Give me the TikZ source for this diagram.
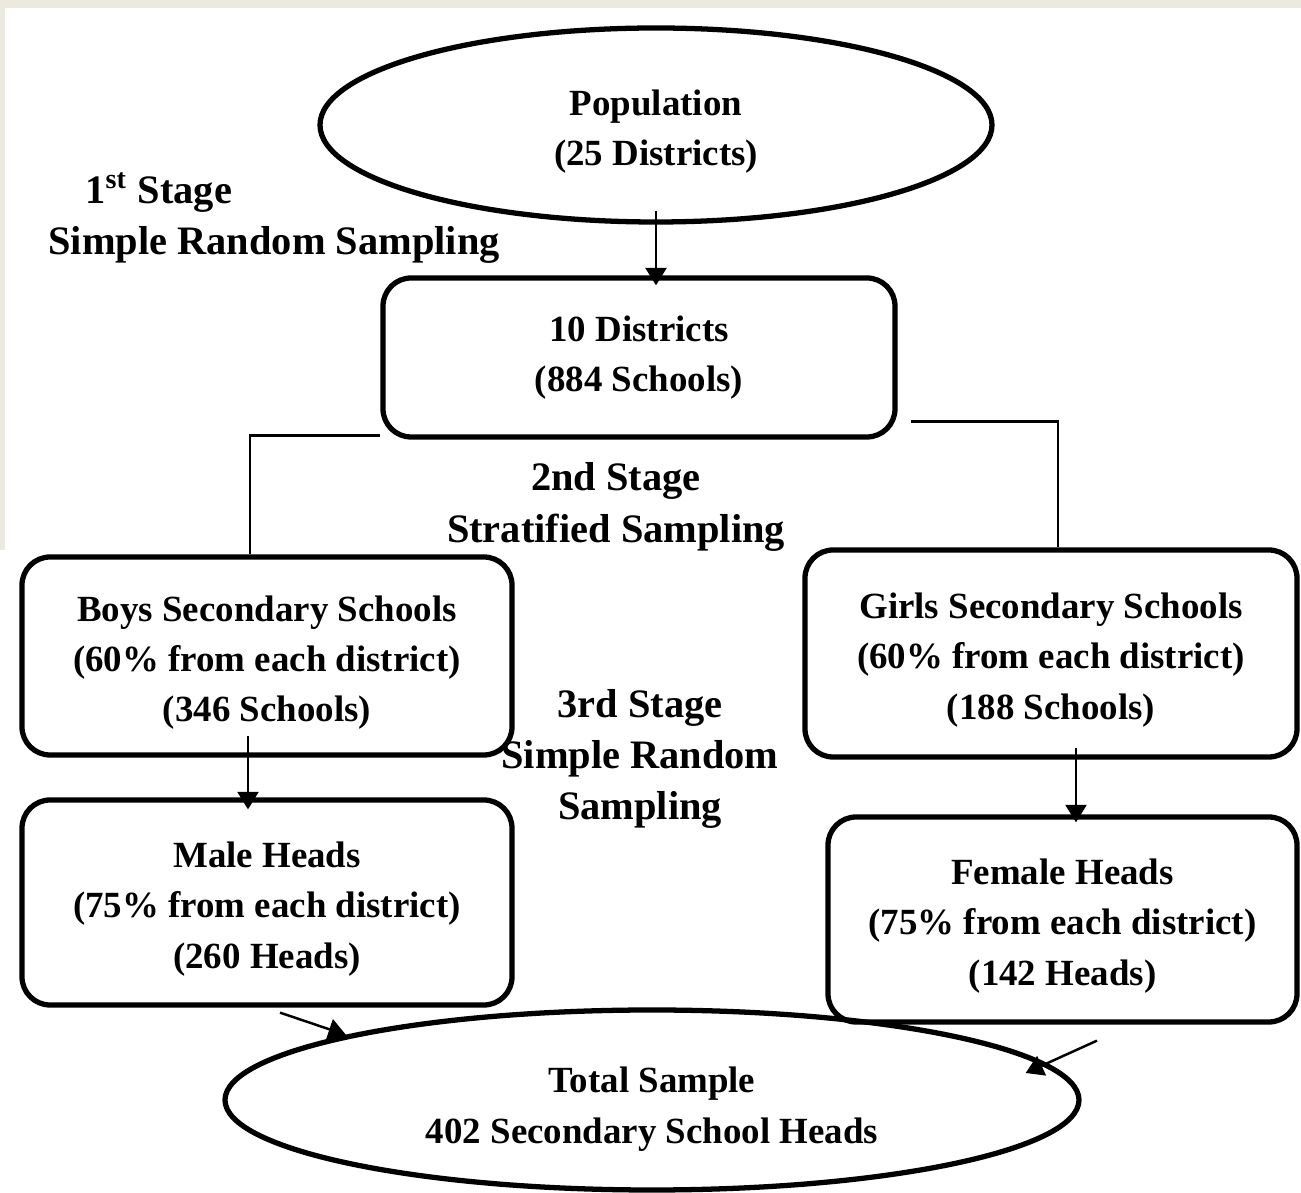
\documentclass[tikz,border=0pt]{standalone}
\usepackage{fontspec}
\setmainfont{Liberation Serif}
\usetikzlibrary{shapes.geometric,arrows.meta}
\definecolor{paper}{HTML}{ECEADF}
\newcommand{\hdrop}[1][11pt]{\rule{0pt}{#1}}

\begin{document}
\begin{tikzpicture}[
	every node/.style={font=\bfseries\fontsize{10.5}{14.3}\selectfont, align=center},
	blob/.style={ellipse, draw, line width=1.5pt, inner sep=0pt},
	box/.style={rectangle, rounded corners=8pt, draw, line width=1.5pt},
	link/.style={line width=0.7pt},
	arr/.style={line width=0.7pt, -{Triangle[length=5pt,width=6pt]}},
	stage/.style={font=\bfseries\fontsize{11.5}{14.6}\selectfont}
]

	% Marc
	\useasboundingbox (0,0) rectangle (13.01,-11.93);
	\fill[paper] (0,0) rectangle (13.01,-0.08);
	\fill[paper] (0,0) rectangle (0.05,-5.5);

	% Nodes
	\node[blob, minimum width=6.72cm, minimum height=1.94cm] (pop) at (6.56,-1.25) {\hdrop Population\\(25 Districts)};
	\node[box, minimum width=5.12cm, minimum height=1.59cm] (dist) at (6.39,-3.575) {10 Districts\\(884 Schools)};

	\node[box, minimum width=4.90cm, minimum height=1.98cm] (boys) at (2.67,-6.56) {\hdrop Boys Secondary Schools\\(60\% from each district)\\(346 Schools)};
	\node[box, minimum width=4.92cm, minimum height=2.07cm] (girls) at (10.51,-6.535) {\hdrop Girls Secondary Schools\\(60\% from each district)\\(188 Schools)};

	\node[box, minimum width=4.90cm, minimum height=2.05cm] (male) at (2.67,-9.025) {\hdrop Male Heads\\(75\% from each district)\\(260 Heads)};
	\node[box, minimum width=4.69cm, minimum height=2.05cm] (female) at (10.625,-9.195) {\hdrop Female Heads\\(75\% from each district)\\(142 Heads)};

	\node[blob, minimum width=8.54cm, minimum height=1.80cm] (total) at (6.52,-11.0) {\hdrop[12.5pt]Total Sample\\402 Secondary School Heads};

	% Etapes
	\node[stage, anchor=west, align=left] (stage1) at (0.36,-2.18) {\hspace{0.37cm}1\textsuperscript{\fontsize{8}{8}\selectfont st} Stage\\Simple Random Sampling};
	\node[stage] (stage2) at (6.16,-5.07) {2nd Stage\\Stratified Sampling};
	\node[stage] (stage3) at (6.40,-7.59) {3rd Stage\\Simple Random\\Sampling};

	% Connectors
	\draw[arr] ([yshift=0.14cm]pop.south) -- ([yshift=-0.1cm]pop.south |- dist.north);
	\draw[link] ([yshift=0.04cm]dist.south west) -| ([xshift=-0.17cm]boys.north);
	\draw[link] ([xshift=0.13cm,yshift=0.18cm]dist.south east) -| ([xshift=0.07cm]girls.north);

	\draw[arr] ([xshift=-0.19cm,yshift=0.22cm]boys.south) -- ([xshift=-0.19cm,yshift=-0.12cm]male.north);
	\draw[arr] ([xshift=0.25cm,yshift=0.12cm]girls.south) -- ([xshift=0.135cm,yshift=-0.08cm]female.north);

	\draw[arr] ([xshift=0.13cm,yshift=-0.05cm]male.south) -- (total.168);
	\draw[arr] ([xshift=0.345cm,yshift=-0.16cm]female.south) -- ([xshift=-0.56cm,yshift=0.27cm]total.east);

\end{tikzpicture}
\end{document}
